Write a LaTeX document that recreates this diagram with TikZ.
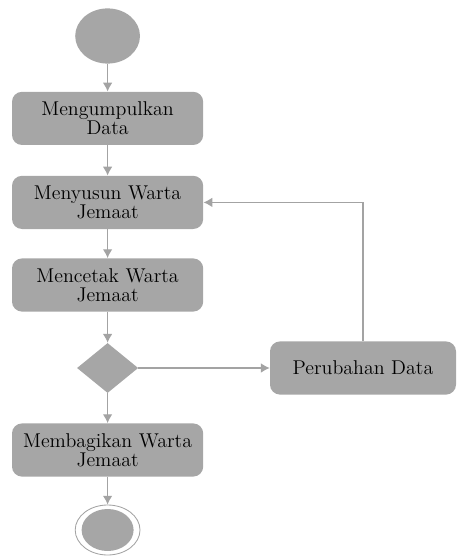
\documentclass[tikz,border=0pt]{standalone}
\usetikzlibrary{shapes.geometric,arrows.meta}
\definecolor{actfill}{HTML}{A6A6A6}
\definecolor{flowline}{HTML}{A3A3A3}

\begin{document}
\begin{tikzpicture}[
  activity/.style={rectangle, rounded corners=0.25cm, fill=actfill,
    minimum width=4.78cm, minimum height=1.33cm, align=center,
    font=\fontsize{14.2}{13.8}\selectfont},
  startdot/.style={ellipse, fill=actfill, minimum width=1.62cm, minimum height=1.38cm},
  decision/.style={diamond, fill=actfill, inner sep=0pt, minimum width=1.53cm, minimum height=1.25cm},
  endring/.style={ellipse, draw=flowline, line width=0.6pt, minimum width=1.62cm, minimum height=1.25cm},
  enddot/.style={ellipse, fill=actfill, minimum width=1.3cm, minimum height=1.05cm},
  flow/.style={flowline, line width=0.9pt, -{Latex[length=0.22cm,width=0.24cm]}}
]
  \useasboundingbox (0,0) rectangle (11.4,-13.975);

  \node[startdot] (start) at (2.69,-0.9) {};
  \node[activity] (kumpul) at (2.69,-2.96) {Mengumpulkan\\Data};
  \node[activity] (susun) at (2.69,-5.06) {Menyusun Warta\\Jemaat};
  \node[activity] (cetak) at (2.69,-7.125) {Mencetak Warta\\Jemaat};
  \node[decision] (cek) at (2.69,-9.2) {};
  \node[activity, minimum width=4.65cm] (ubah) at (9.075,-9.2) {Perubahan Data};
  \node[activity] (bagi) at (2.69,-11.25) {Membagikan Warta\\Jemaat};
  \node[endring] (stop) at (2.69,-13.25) {};
  \node[enddot] (stopdot) at (stop) {};

  \draw[flow] (start) -- (kumpul);
  \draw[flow] (kumpul) -- (susun);
  \draw[flow] (susun) -- (cetak);
  \draw[flow] (cetak) -- (cek);
  \draw[flow] (cek) -- (ubah);
  \draw[flow] (ubah.north) |- (susun.east);
  \draw[flow] (cek) -- (bagi);
  \draw[flow] (bagi) -- (stop);
\end{tikzpicture}
\end{document}
